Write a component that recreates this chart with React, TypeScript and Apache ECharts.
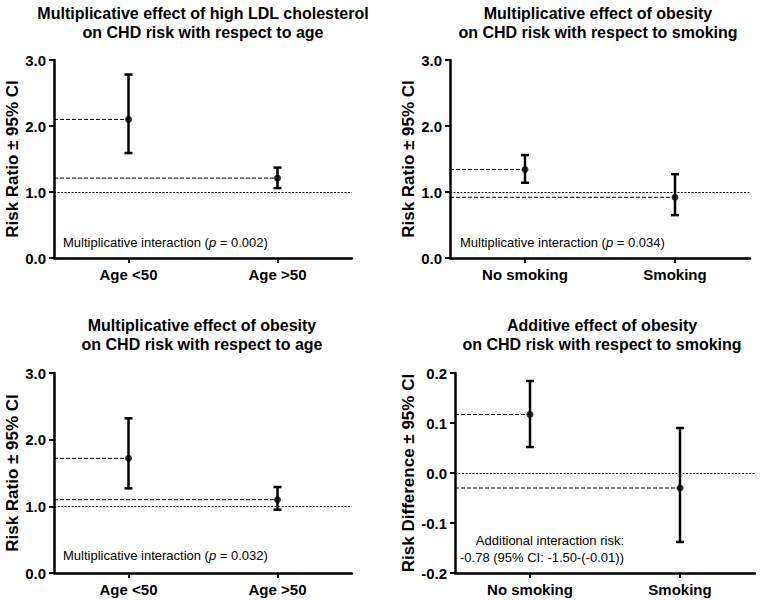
import React, { useEffect, useRef } from "react";
import * as echarts from "echarts";

const catsAge = ["Age <50", "Age >50"];
const catsSmoke = ["No smoking", "Smoking"];

const p1Est = [2.1, 1.21];
const p1Low = [1.59, 1.06];
const p1High = [2.78, 1.37];

const p2Est = [1.34, 0.92];
const p2Low = [1.14, 0.65];
const p2High = [1.56, 1.27];

const p3Est = [1.72, 1.1];
const p3Low = [1.27, 0.95];
const p3High = [2.32, 1.29];

const p4Est = [0.117, -0.03];
const p4Low = [0.052, -0.138];
const p4High = [0.184, 0.09];

const titles = [
  "Multiplicative effect of high LDL cholesterol\non CHD risk with respect to age",
  "Multiplicative effect of obesity\non CHD risk with respect to smoking",
  "Multiplicative effect of obesity\non CHD risk with respect to age",
  "Additive effect of obesity\non CHD risk with respect to smoking",
];
const yNames = ["Risk Ratio \u00b1 95% CI", "Risk Ratio \u00b1 95% CI", "Risk Ratio \u00b1 95% CI", "Risk Difference \u00b1 95% CI"];
const refValues = [1, 1, 1, 0];

const FONT = "'Liberation Sans', Arial, Helvetica, sans-serif";

const panels = [
  { cats: catsAge, est: p1Est, low: p1Low, high: p1High, min: 0, max: 3, interval: 1 },
  { cats: catsSmoke, est: p2Est, low: p2Low, high: p2High, min: 0, max: 3, interval: 1 },
  { cats: catsAge, est: p3Est, low: p3Low, high: p3High, min: 0, max: 3, interval: 1 },
  { cats: catsSmoke, est: p4Est, low: p4Low, high: p4High, min: -0.2, max: 0.2, interval: 0.1 },
];

const grids = [
  { left: 54, top: 60, width: 298, height: 198 },
  { left: 450, top: 60, width: 300, height: 198 },
  { left: 54, top: 373, width: 298, height: 200 },
  { left: 455, top: 373, width: 300, height: 200 },
];
const titlePos = [
  { x: 203, y: 4 },
  { x: 598, y: 4 },
  { x: 202, y: 316 },
  { x: 602, y: 316 },
];
const nameGaps = [32, 32, 32, 37];

function renderErr(params: any, api: any) {
  const c = api.value(0);
  const pt = api.coord([c, api.value(1)]);
  const lo = api.coord([c, api.value(2)]);
  const hi = api.coord([c, api.value(3)]);
  const left = params.coordSys.x;
  const cap = 4;
  const black = { stroke: "#000", lineWidth: 2.5 };
  return {
    type: "group",
    children: [
      {
        type: "line",
        shape: { x1: left, y1: pt[1], x2: pt[0], y2: pt[1] },
        style: { stroke: "#000", lineWidth: 1, lineDash: [4, 2] },
      },
      { type: "line", shape: { x1: lo[0], y1: lo[1], x2: hi[0], y2: hi[1] }, style: black },
      { type: "line", shape: { x1: hi[0] - cap, y1: hi[1], x2: hi[0] + cap, y2: hi[1] }, style: black },
      { type: "line", shape: { x1: lo[0] - cap, y1: lo[1], x2: lo[0] + cap, y2: lo[1] }, style: black },
    ],
  };
}

export default function App() {
  const ref = useRef<HTMLDivElement>(null);
  useEffect(() => {
    if (!ref.current) return;
    const chart = echarts.init(ref.current, undefined, { renderer: "svg" });
    const option: any = {
      animation: false,
      backgroundColor: "#fff",
      textStyle: { fontFamily: FONT },
      title: [
        ...titles.map((t, i) => ({
          text: t,
          left: titlePos[i].x,
          top: titlePos[i].y,
          textAlign: "center",
          padding: 0,
          textStyle: { fontFamily: FONT, fontSize: 16, fontWeight: "bold", color: "#000", lineHeight: 19, align: "center" },
        })),
        {
          text: "Multiplicative interaction ({i|p} = 0.002)",
          left: 63,
          top: 236,
          padding: 0,
          textStyle: { fontFamily: FONT, fontSize: 13, fontWeight: "normal", color: "#000", rich: { i: { fontStyle: "italic", fontSize: 13, fontFamily: FONT } } },
        },
        {
          text: "Multiplicative interaction ({i|p} = 0.034)",
          left: 460,
          top: 236,
          padding: 0,
          textStyle: { fontFamily: FONT, fontSize: 13, fontWeight: "normal", color: "#000", rich: { i: { fontStyle: "italic", fontSize: 13, fontFamily: FONT } } },
        },
        {
          text: "Multiplicative interaction ({i|p} = 0.032)",
          left: 63,
          top: 549,
          padding: 0,
          textStyle: { fontFamily: FONT, fontSize: 13, fontWeight: "normal", color: "#000", rich: { i: { fontStyle: "italic", fontSize: 13, fontFamily: FONT } } },
        },
        {
          text: "Additional interaction risk:\n-0.78 (95% CI: -1.50-(-0.01))",
          left: 624,
          top: 532,
          textAlign: "right",
          padding: 0,
          textStyle: { fontFamily: FONT, fontSize: 13, fontWeight: "normal", color: "#000", lineHeight: 17, align: "right" },
        },
      ],
      grid: grids.map((g) => ({ ...g, containLabel: false })),
      xAxis: panels.map((p, i) => ({
        type: "category",
        gridIndex: i,
        data: p.cats,
        boundaryGap: true,
        axisLine: { show: true, onZero: false, lineStyle: { color: "#000", width: 2.5 } },
        axisTick: { show: true, alignWithLabel: true, length: 5, lineStyle: { color: "#000", width: 2 } },
        axisLabel: { color: "#000", fontFamily: FONT, fontSize: 15, fontWeight: "bold", margin: 9 },
        splitLine: { show: false },
      })),
      yAxis: panels.map((p, i) => ({
        type: "value",
        gridIndex: i,
        min: p.min,
        max: p.max,
        interval: p.interval,
        name: yNames[i],
        nameLocation: "middle",
        nameGap: nameGaps[i],
        nameTextStyle: { color: "#000", fontFamily: FONT, fontSize: 17, fontWeight: "bold" },
        axisLine: { show: true, onZero: false, lineStyle: { color: "#000", width: 2.5 } },
        axisTick: { show: true, length: 5, lineStyle: { color: "#000", width: 2 } },
        axisLabel: {
          color: "#000",
          fontFamily: FONT,
          fontSize: 15,
          fontWeight: "bold",
          margin: 8,
          formatter: (v: number) => (Math.abs(v) < 1e-9 ? "0.0" : v.toFixed(1)),
        },
        splitLine: { show: false },
      })),
      series: panels.flatMap((p, i) => [
        {
          type: "custom",
          xAxisIndex: i,
          yAxisIndex: i,
          renderItem: renderErr,
          data: p.est.map((e, k) => [k, e, p.low[k], p.high[k]]),
          z: 3,
        },
        {
          type: "scatter",
          xAxisIndex: i,
          yAxisIndex: i,
          symbol: "circle",
          symbolSize: 7,
          itemStyle: { color: "#000" },
          data: p.est.map((e, k) => [k, e]),
          z: 4,
          markLine: {
            silent: true,
            symbol: "none",
            label: { show: false },
            lineStyle: { color: "#000", width: 1, type: [2, 1.5] },
            data: [{ yAxis: refValues[i] }],
          },
        },
      ]),
    };
    chart.setOption(option);
    return () => chart.dispose();
  }, []);
  return (
    <div
      ref={ref}
      style={{ position: "fixed", left: 0, top: 0, width: 760, height: 600, background: "#fff" }}
    />
  );
}
